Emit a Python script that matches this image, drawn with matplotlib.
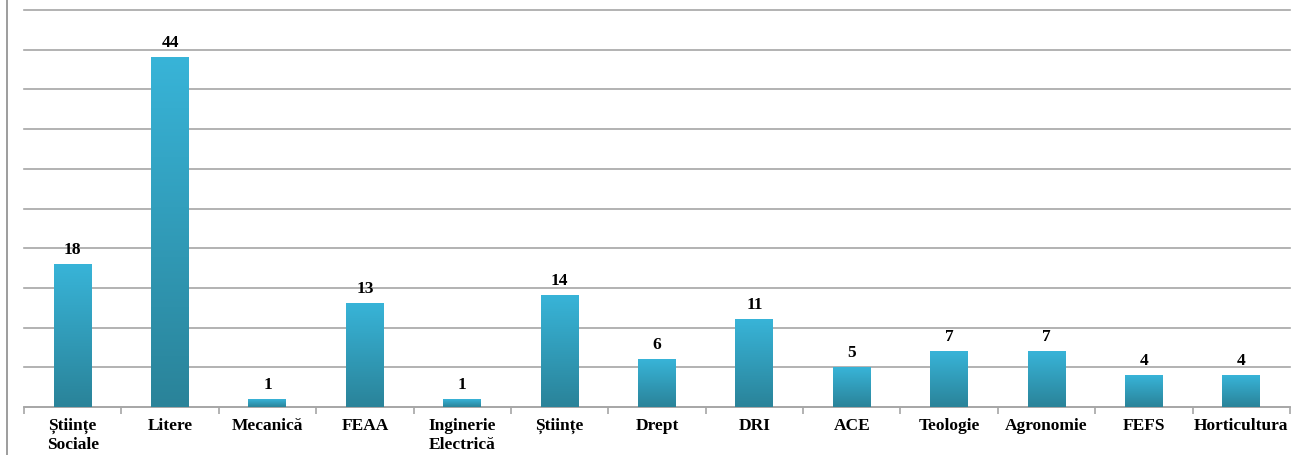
import numpy as np
import matplotlib
matplotlib.use("Agg")
import matplotlib.pyplot as plt
from matplotlib.colors import LinearSegmentedColormap
from matplotlib.lines import Line2D

# date
facultati = ["Științe\nSociale", "Litere", "Mecanică", "FEAA", "Inginerie\nElectrică",
             "Științe", "Drept", "DRI", "ACE", "Teologie", "Agronomie", "FEFS", "Horticultura"]
valori = [18, 44, 1, 13, 1, 14, 6, 11, 5, 7, 7, 4, 4]

plt.rcParams['font.family'] = ['Liberation Serif', 'DejaVu Serif']

fig = plt.figure(figsize=(12.94, 4.55), dpi=100)
ax = fig.add_axes([24 / 1294, 1 - 407 / 455, 1266 / 1294, 397 / 455])

# gradient albastru: sus deschis, jos inchis
cmap = LinearSegmentedColormap.from_list("bara", ["#2A8399", "#38B4D8"])
grad = np.linspace(0, 1, 256).reshape(-1, 1)

lat = 0.39
x = np.arange(len(valori))
for xi, v in zip(x, valori):
    ax.imshow(grad, extent=[xi - lat / 2, xi + lat / 2, 0, v], origin="lower",
              aspect="auto", cmap=cmap, zorder=3)
    ax.text(xi, v + 0.8, str(v), ha="center", va="bottom",
            fontsize=12.5, fontweight="bold", zorder=4)

ax.set_xlim(-0.5, len(valori) - 0.5)
ax.set_ylim(0, 50)

ax.set_yticks(np.arange(0, 51, 5))
ax.set_yticklabels([])
ax.tick_params(axis="y", length=0)
ax.yaxis.grid(True, color="#A6A6A6", linewidth=1.2, zorder=0, clip_on=False)
ax.set_axisbelow(True)

ax.set_xticks(x)
ax.set_xticklabels(facultati, fontsize=12.5, fontweight="bold", linespacing=1.22)
ax.tick_params(axis="x", length=0, pad=8)
ax.set_xticks(np.arange(-0.5, len(valori), 1), minor=True)
ax.tick_params(axis="x", which="minor", length=5, color="#A6A6A6", width=1.2)

for s in ["top", "right", "left"]:
    ax.spines[s].set_visible(False)
ax.spines["bottom"].set_color("#A6A6A6")
ax.spines["bottom"].set_linewidth(1.2)

# chenarul din stanga
fig.add_artist(Line2D([7 / 1294, 7 / 1294], [0, 1], color="#8C8C8C", linewidth=1.2))

fig.savefig("out.png", dpi=100)
